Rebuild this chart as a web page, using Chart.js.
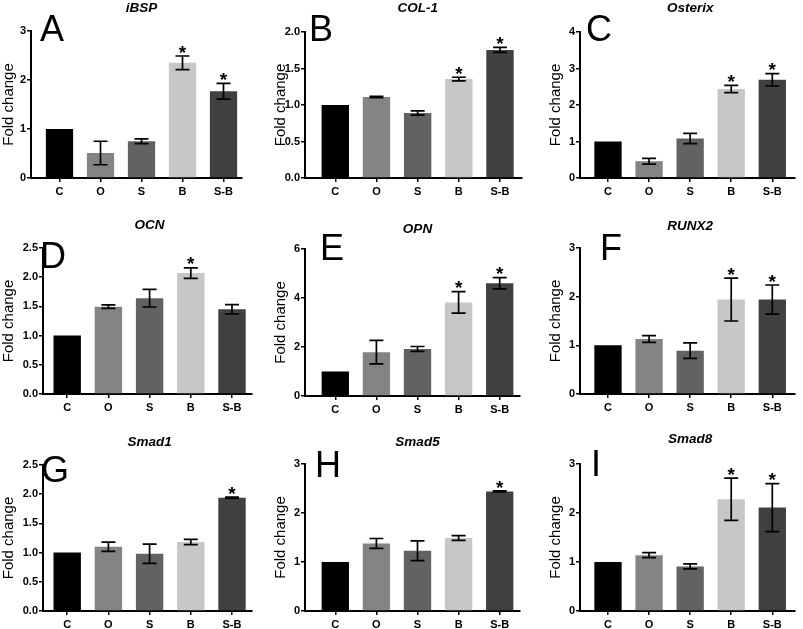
<!DOCTYPE html>
<html><head><meta charset="utf-8">
<script src="https://cdn.jsdelivr.net/npm/chart.js@4"></script>
<style>
html,body{margin:0;padding:0;background:#fff;}
#wrap{position:relative;width:803px;height:629px;overflow:hidden;background:#fff;}
.panel{position:absolute;}
.panel canvas{display:block;}
</style></head><body><div id="wrap"></div>
<script>
// ---------- DATA ----------
const categories = ['C', 'O', 'S', 'B', 'S-B'];
const genes = ['iBSP', 'COL-1', 'Osterix', 'OCN', 'OPN', 'RUNX2', 'Smad1', 'Smad5', 'Smad8'];
const panelLetters = ['A', 'B', 'C', 'D', 'E', 'F', 'G', 'H', 'I'];

const iBSP_mean    = [1.00, 0.51, 0.75, 2.35, 1.77];
const iBSP_err     = [0, 0.24, 0.05, 0.14, 0.16];
const iBSP_sig     = [0, 0, 0, 1, 1];
const COL1_mean    = [1.00, 1.11, 0.89, 1.355, 1.755];
const COL1_err     = [0, 0.01, 0.03, 0.025, 0.035];
const COL1_sig     = [0, 0, 0, 1, 1];
const Osterix_mean = [1.00, 0.46, 1.08, 2.44, 2.69];
const Osterix_err  = [0, 0.08, 0.14, 0.10, 0.17];
const Osterix_sig  = [0, 0, 0, 1, 1];
const OCN_mean     = [1.00, 1.495, 1.64, 2.07, 1.45];
const OCN_err      = [0, 0.03, 0.15, 0.09, 0.08];
const OCN_sig      = [0, 0, 0, 1, 0];
const OPN_mean     = [1.00, 1.79, 1.92, 3.82, 4.60];
const OPN_err      = [0, 0.48, 0.10, 0.44, 0.23];
const OPN_sig      = [0, 0, 0, 1, 1];
const RUNX2_mean   = [1.00, 1.13, 0.89, 1.94, 1.94];
const RUNX2_err    = [0, 0.07, 0.16, 0.44, 0.30];
const RUNX2_sig    = [0, 0, 0, 1, 1];
const Smad1_mean   = [1.00, 1.10, 0.98, 1.18, 1.94];
const Smad1_err    = [0, 0.08, 0.165, 0.045, 0.01];
const Smad1_sig    = [0, 0, 0, 0, 1];
const Smad5_mean   = [1.00, 1.38, 1.23, 1.49, 2.44];
const Smad5_err    = [0, 0.10, 0.20, 0.05, 0.01];
const Smad5_sig    = [0, 0, 0, 0, 1];
const Smad8_mean   = [1.00, 1.14, 0.91, 2.28, 2.11];
const Smad8_err    = [0, 0.05, 0.05, 0.43, 0.49];
const Smad8_sig    = [0, 0, 0, 1, 1];

const yMax      = [3, 2, 4, 2.5, 6, 3, 2.5, 3, 3];
const yStep     = [1, 0.5, 1, 0.5, 2, 1, 0.5, 1, 1];
const yDecimals = [0, 1, 0, 1, 0, 0, 1, 0, 0];

const allMeans = [iBSP_mean, COL1_mean, Osterix_mean, OCN_mean, OPN_mean, RUNX2_mean, Smad1_mean, Smad5_mean, Smad8_mean];
const allErrs  = [iBSP_err, COL1_err, Osterix_err, OCN_err, OPN_err, RUNX2_err, Smad1_err, Smad5_err, Smad8_err];
const allSigs  = [iBSP_sig, COL1_sig, Osterix_sig, OCN_sig, OPN_sig, RUNX2_sig, Smad1_sig, Smad5_sig, Smad8_sig];

// ---------- STYLE / LAYOUT ----------
const barColors = ['#000000', '#848484', '#626262', '#c7c7c7', '#404040'];
const FONT = '"Liberation Sans", Arial, sans-serif';
// absolute page coordinates
const layouts = [
  {left:0,   top:0,   width:268, height:212, axisX:31,  axisEnd:242, yTop:31,  y0:178, c0:59.5,  c4:223.5, titleY:8,   lx:40,  ly:41},
  {left:272, top:0,   width:263, height:212, axisX:305, axisEnd:522, yTop:32,  y0:178, c0:335.3, c4:500,   titleY:8,   lx:309, ly:41},
  {left:547, top:0,   width:256, height:212, axisX:580, axisEnd:795, yTop:32,  y0:178, c0:608,   c4:772.3, titleY:8,   lx:586, ly:41},
  {left:0,   top:205, width:268, height:222, axisX:43,  axisEnd:252, yTop:248, y0:394, c0:67.2,  c4:232,   titleY:225, lx:40,  ly:268},
  {left:272, top:205, width:263, height:222, axisX:305, axisEnd:520, yTop:249, y0:396, c0:335.3, c4:499.7, titleY:229, lx:320, ly:260},
  {left:547, top:205, width:256, height:222, axisX:580, axisEnd:795, yTop:248, y0:394, c0:608,   c4:772.3, titleY:226, lx:600, ly:260},
  {left:0,   top:415, width:268, height:214, axisX:43,  axisEnd:252, yTop:465, y0:611, c0:67.2,  c4:232,   titleY:442, lx:41,  ly:482},
  {left:272, top:415, width:263, height:214, axisX:305, axisEnd:520, yTop:464, y0:611, c0:335.3, c4:499.7, titleY:442, lx:315, ly:477},
  {left:547, top:415, width:256, height:214, axisX:580, axisEnd:795, yTop:464, y0:611, c0:608,   c4:772.3, titleY:439, lx:591, ly:476}
];

Chart.defaults.font.family = FONT;
Chart.defaults.color = '#000';

const extrasPlugin = {
  id: 'extras',
  afterDatasetsDraw(chart, args, opts) {
    const ctx = chart.ctx;
    const xs = chart.scales.x, ys = chart.scales.y;
    const meta = chart.getDatasetMeta(0);
    ctx.save();
    ctx.strokeStyle = '#000';
    ctx.fillStyle = '#000';
    ctx.lineWidth = 1.7;
    meta.data.forEach((el, i) => {
      const m = opts.mean[i], e = opts.err[i];
      let topPx = ys.getPixelForValue(m);
      if (e > 0) {
        const yT = ys.getPixelForValue(m + e), yB = ys.getPixelForValue(m - e);
        const hw = 7;
        ctx.beginPath();
        ctx.moveTo(el.x, yT); ctx.lineTo(el.x, yB);
        ctx.moveTo(el.x - hw, yT); ctx.lineTo(el.x + hw, yT);
        ctx.moveTo(el.x - hw, yB); ctx.lineTo(el.x + hw, yB);
        ctx.stroke();
        topPx = yT;
      }
      if (opts.sig[i]) {
        ctx.font = 'bold 19px ' + FONT;
        ctx.textAlign = 'center';
        ctx.textBaseline = 'alphabetic';
        ctx.fillText('*', el.x, topPx - 8 + 0.56 * 19);
      }
    });
    // title
    const cx = (xs.getPixelForValue(0) + xs.getPixelForValue(4)) / 2;
    ctx.font = 'italic bold 13.5px ' + FONT;
    ctx.textAlign = 'center';
    ctx.textBaseline = 'middle';
    ctx.fillText(opts.title, cx, opts.titleY);
    // panel letter
    ctx.font = '36px ' + FONT;
    ctx.textAlign = 'left';
    ctx.textBaseline = 'alphabetic';
    ctx.fillText(opts.letter, opts.lx, opts.ly);
    ctx.restore();
  }
};

const wrap = document.getElementById('wrap');
layouts.forEach((L, p) => {
  const div = document.createElement('div');
  div.className = 'panel';
  div.style.left = L.left + 'px';
  div.style.top = L.top + 'px';
  div.style.width = L.width + 'px';
  div.style.height = L.height + 'px';
  const cv = document.createElement('canvas');
  cv.width = L.width; cv.height = L.height;
  cv.style.width = L.width + 'px'; cv.style.height = L.height + 'px';
  div.appendChild(cv);
  wrap.appendChild(div);

  const s = (L.c4 - L.c0) / 4;
  const xmin = -(L.c0 - L.axisX) / s;
  const xmax = (categories.length - 1) + (L.axisEnd - L.c4) / s;
  const dec = yDecimals[p];

  new Chart(cv, {
    type: 'bar',
    data: {
      datasets: [{
        data: allMeans[p].map((v, i) => ({x: i, y: v})),
        backgroundColor: barColors,
        borderWidth: 0,
        categoryPercentage: 1,
        barPercentage: 0.665
      }]
    },
    options: {
      responsive: false,
      animation: false,
      devicePixelRatio: 1,
      layout: {padding: {left: 0, top: L.yTop - L.top, right: L.left + L.width - L.axisEnd, bottom: 0}},
      plugins: {
        legend: {display: false},
        tooltip: {enabled: false},
        extras: {
          mean: allMeans[p], err: allErrs[p], sig: allSigs[p],
          title: genes[p], letter: panelLetters[p],
          titleY: L.titleY - L.top, lx: L.lx - L.left, ly: L.ly - L.top
        }
      },
      scales: {
        x: {
          type: 'linear',
          offset: false,
          min: xmin, max: xmax,
          afterBuildTicks: sc => { sc.ticks = categories.map((c, i) => ({value: i})); },
          afterFit: sc => { sc.height = L.top + L.height - L.y0; },
          ticks: {
            callback: v => categories[v],
            font: {weight: 'bold', size: 11},
            color: '#000', padding: 3, autoSkip: false, maxRotation: 0
          },
          grid: {display: true, offset: false, drawOnChartArea: false, drawTicks: true, tickLength: 4, color: '#000', lineWidth: 1.5},
          border: {display: true, color: '#000', width: 2}
        },
        y: {
          min: 0, max: yMax[p],
          afterFit: sc => { sc.width = L.axisX - L.left; },
          ticks: {
            stepSize: yStep[p],
            callback: v => Number(v).toFixed(dec),
            font: {weight: 'bold', size: 11},
            color: '#000', padding: 1
          },
          grid: {display: true, drawOnChartArea: false, drawTicks: true, tickLength: 4, color: '#000', lineWidth: 1.5},
          border: {display: true, color: '#000', width: 2},
          title: {display: true, text: 'Fold change', font: {size: 15}, color: '#000', padding: 0}
        }
      }
    },
    plugins: [extrasPlugin]
  });
});
</script>
</body></html>
